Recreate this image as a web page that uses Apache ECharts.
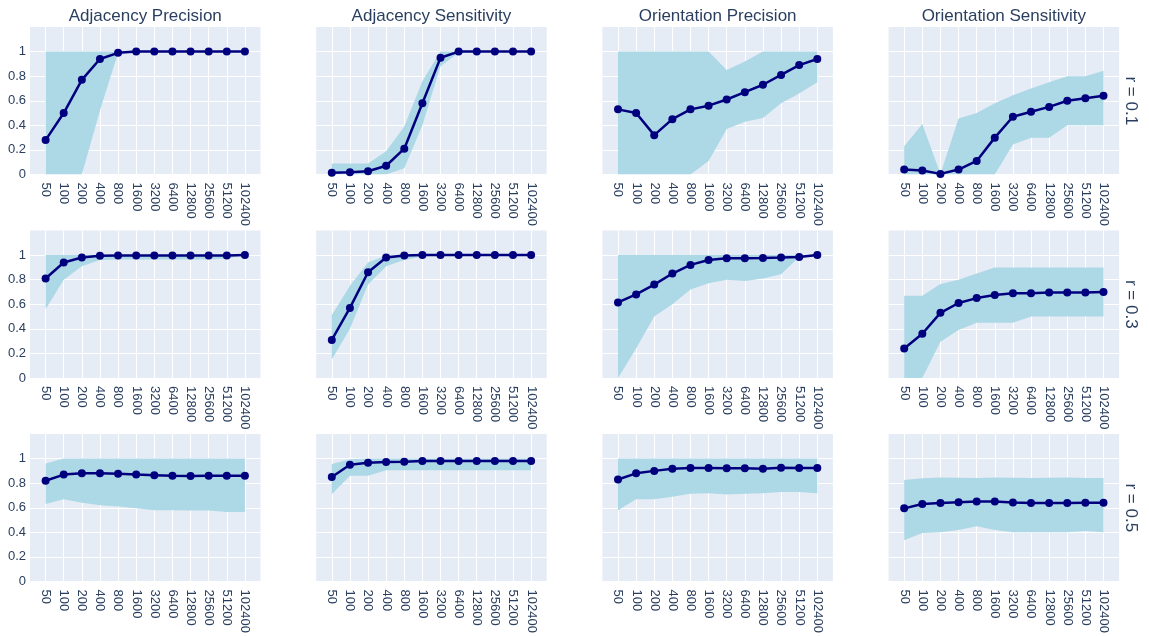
<!DOCTYPE html>
<html>
<head>
<meta charset="utf-8">
<script src="https://cdn.jsdelivr.net/npm/echarts@6/dist/echarts.min.js"></script>
<style>
  html, body { margin: 0; padding: 0; background: #ffffff; }
  #chart { width: 1149px; height: 636px; }
</style>
</head>
<body>
<div id="chart"></div>
<script>
// Sample sizes along the x axis
const categories = ['50', '100', '200', '400', '800', '1600', '3200', '6400', '12800', '25600', '51200', '102400'];
const columnTitles = ['Adjacency Precision', 'Adjacency Sensitivity', 'Orientation Precision', 'Orientation Sensitivity'];
const rowLabels = ['r = 0.1', 'r = 0.3', 'r = 0.5'];

// r = 0.1
const apMean01 = [0.28, 0.50, 0.77, 0.94, 0.99, 1, 1, 1, 1, 1, 1, 1];
const apLow01  = [0, 0, 0, 0.52, 0.99, 1, 1, 1, 1, 1, 1, 1];
const apHigh01 = [1, 1, 1, 1, 1, 1, 1, 1, 1, 1, 1, 1];
const asMean01 = [0.014, 0.019, 0.027, 0.071, 0.21, 0.58, 0.95, 1, 1, 1, 1, 1];
const asLow01  = [0, 0, 0, 0, 0.05, 0.40, 0.88, 0.99, 1, 1, 1, 1];
const asHigh01 = [0.09, 0.09, 0.09, 0.19, 0.39, 0.76, 1, 1, 1, 1, 1, 1];
const opMean01 = [0.53, 0.50, 0.32, 0.45, 0.53, 0.56, 0.61, 0.67, 0.73, 0.81, 0.89, 0.94];
const opLow01  = [0, 0, 0, 0, 0, 0.11, 0.37, 0.43, 0.46, 0.58, 0.66, 0.75];
const opHigh01 = [1, 1, 1, 1, 1, 1, 0.85, 0.92, 1, 1, 1, 1];
const osMean01 = [0.04, 0.033, 0.005, 0.04, 0.11, 0.30, 0.47, 0.51, 0.55, 0.60, 0.62, 0.64];
const osLow01  = [0, 0, 0, 0, 0, 0, 0.245, 0.30, 0.30, 0.40, 0.40, 0.40];
const osHigh01 = [0.23, 0.41, 0.005, 0.455, 0.50, 0.58, 0.645, 0.70, 0.75, 0.80, 0.80, 0.845];

// r = 0.3
const apMean03 = [0.81, 0.94, 0.98, 0.995, 0.997, 0.997, 0.997, 0.997, 0.997, 0.997, 0.997, 1];
const apLow03  = [0.56, 0.80, 0.91, 0.96, 0.965, 0.965, 0.965, 0.965, 0.965, 0.965, 0.97, 0.99];
const apHigh03 = [1, 1, 1, 1, 1, 1, 1, 1, 1, 1, 1, 1];
const asMean03 = [0.31, 0.57, 0.86, 0.98, 0.997, 1, 1, 1, 1, 1, 1, 1];
const asLow03  = [0.15, 0.40, 0.76, 0.91, 0.96, 0.99, 1, 1, 1, 1, 1, 1];
const asHigh03 = [0.51, 0.75, 0.94, 0.997, 1, 1, 1, 1, 1, 1, 1, 1];
const opMean03 = [0.615, 0.68, 0.76, 0.85, 0.92, 0.96, 0.975, 0.975, 0.977, 0.98, 0.985, 1];
const opLow03  = [0, 0.24, 0.50, 0.60, 0.72, 0.77, 0.80, 0.79, 0.81, 0.845, 0.985, 1];
const opHigh03 = [1, 1, 1, 1, 1, 1, 1, 1, 1, 1, 1, 1];
const osMean03 = [0.24, 0.36, 0.53, 0.61, 0.65, 0.675, 0.69, 0.69, 0.695, 0.695, 0.695, 0.70];
const osLow03  = [0, 0, 0.295, 0.39, 0.45, 0.45, 0.45, 0.50, 0.50, 0.50, 0.50, 0.50];
const osHigh03 = [0.67, 0.67, 0.765, 0.80, 0.85, 0.90, 0.90, 0.90, 0.90, 0.90, 0.90, 0.90];

// r = 0.5
const apMean05 = [0.82, 0.87, 0.88, 0.88, 0.877, 0.87, 0.865, 0.86, 0.858, 0.86, 0.86, 0.86];
const apLow05  = [0.63, 0.67, 0.64, 0.62, 0.61, 0.595, 0.58, 0.58, 0.578, 0.578, 0.565, 0.565];
const apHigh05 = [0.96, 1, 1, 1, 1, 1, 1, 1, 1, 1, 1, 1];
const asMean05 = [0.85, 0.95, 0.967, 0.973, 0.975, 0.98, 0.98, 0.98, 0.98, 0.98, 0.98, 0.98];
const asLow05  = [0.71, 0.86, 0.86, 0.905, 0.905, 0.905, 0.905, 0.905, 0.905, 0.905, 0.905, 0.905];
const asHigh05 = [0.955, 0.995, 1, 1, 1, 1, 1, 1, 1, 1, 1, 1];
const opMean05 = [0.83, 0.88, 0.90, 0.918, 0.923, 0.923, 0.921, 0.921, 0.917, 0.925, 0.923, 0.923];
const opLow05  = [0.58, 0.67, 0.67, 0.69, 0.714, 0.717, 0.708, 0.714, 0.717, 0.728, 0.728, 0.717];
const opHigh05 = [1, 1, 1, 1, 1, 1, 1, 1, 1, 1, 1, 1];
const osMean05 = [0.595, 0.63, 0.638, 0.645, 0.65, 0.65, 0.643, 0.638, 0.638, 0.638, 0.64, 0.64];
const osLow05  = [0.335, 0.395, 0.40, 0.42, 0.45, 0.42, 0.40, 0.40, 0.40, 0.40, 0.41, 0.40];
const osHigh05 = [0.826, 0.84, 0.847, 0.845, 0.843, 0.847, 0.845, 0.843, 0.845, 0.847, 0.843, 0.843];

// Row-major list of panels: [mean, lower bound, upper bound]
const panels = [
  [apMean01, apLow01, apHigh01], [asMean01, asLow01, asHigh01], [opMean01, opLow01, opHigh01], [osMean01, osLow01, osHigh01],
  [apMean03, apLow03, apHigh03], [asMean03, asLow03, asHigh03], [opMean03, opLow03, opHigh03], [osMean03, osLow03, osHigh03],
  [apMean05, apLow05, apHigh05], [asMean05, asLow05, asHigh05], [opMean05, opLow05, opHigh05], [osMean05, osLow05, osHigh05]
];

const FONT = '"Liberation Sans", Arial, sans-serif';
const TEXT = '#2a3f5f';
const PLOT_BG = '#E5ECF6';
const BAND = '#ADD8E6';
const LINE = '#00007F';

const colLeft = [30, 316.2, 602.4, 888.6];
const rowTop = [27, 230.5, 434];
const cellW = 230.5;
const cellH = 147.5;
const inset = 15.6; // space between plot edge and first/last category

const grid = [], xAxis = [], yAxis = [], series = [], graphic = [];

panels.forEach(function (p, k) {
  const r = Math.floor(k / 4), c = k % 4;
  const outer = 2 * k, inner = 2 * k + 1;
  const left = colLeft[c], top = rowTop[r];

  // Background plot area with horizontal grid lines and y labels
  grid.push({ left: left, top: top, width: cellW, height: cellH, show: true,
    backgroundColor: PLOT_BG, borderWidth: 0, outerBoundsMode: 'none' });
  xAxis.push({ type: 'value', gridIndex: outer, min: 0, max: 1, show: false });
  yAxis.push({
    type: 'value', gridIndex: outer, min: 0, max: 1.2, interval: 0.2,
    axisLine: { show: false }, axisTick: { show: false },
    splitLine: { show: true, showMaxLine: false, lineStyle: { color: '#ffffff', width: 1 } },
    axisLabel: {
      show: c === 0, fontSize: 13, color: TEXT, fontFamily: FONT, margin: 4,
      formatter: function (v) { return v > 1.05 ? '' : String(Math.round(v * 10) / 10); }
    }
  });

  // Category area holding the data
  grid.push({ left: left + inset, top: top, width: cellW - 2 * inset, height: cellH, show: false, outerBoundsMode: 'none' });
  xAxis.push({
    type: 'category', gridIndex: inner, data: categories, boundaryGap: false,
    axisLine: { show: false }, axisTick: { show: false },
    splitLine: { show: true, lineStyle: { color: '#ffffff', width: 1 } },
    axisLabel: { rotate: -90, interval: 0, fontSize: 13, color: TEXT, fontFamily: FONT, margin: 8 }
  });
  yAxis.push({ type: 'value', gridIndex: inner, min: 0, max: 1.2, show: false });

  const mean = p[0], low = p[1], high = p[2];
  const spread = high.map(function (h, i) { return +(h - low[i]).toFixed(4); });
  const stackId = 'band' + k;

  series.push({
    type: 'line', xAxisIndex: inner, yAxisIndex: inner, stack: stackId,
    data: low, symbol: 'none', lineStyle: { width: 0, opacity: 0 }, silent: true, z: 1
  });
  series.push({
    type: 'line', xAxisIndex: inner, yAxisIndex: inner, stack: stackId,
    data: spread, symbol: 'none', lineStyle: { width: 0, opacity: 0 },
    areaStyle: { color: BAND, opacity: 1 }, silent: true, z: 1
  });
  series.push({
    type: 'line', xAxisIndex: inner, yAxisIndex: inner,
    data: mean, symbol: 'circle', symbolSize: 8,
    lineStyle: { color: LINE, width: 2.5 }, itemStyle: { color: LINE }, z: 3
  });
});

columnTitles.forEach(function (t, c) {
  graphic.push({
    type: 'text', x: colLeft[c] + cellW / 2, y: 16,
    style: { text: t, fontSize: 17, fontFamily: FONT, fill: TEXT, align: 'center', verticalAlign: 'middle' }
  });
});

rowLabels.forEach(function (t, r) {
  graphic.push({
    type: 'text', x: 1131, y: rowTop[r] + cellH / 2, rotation: -Math.PI / 2,
    style: { text: t, fontSize: 17, fontFamily: FONT, fill: TEXT, align: 'center', verticalAlign: 'middle' }
  });
});

const chart = echarts.init(document.getElementById('chart'), null, { renderer: 'canvas' });
chart.setOption({
  animation: false,
  backgroundColor: '#ffffff',
  textStyle: { fontFamily: FONT },
  grid: grid,
  xAxis: xAxis,
  yAxis: yAxis,
  series: series,
  graphic: graphic
});
</script>
</body>
</html>
